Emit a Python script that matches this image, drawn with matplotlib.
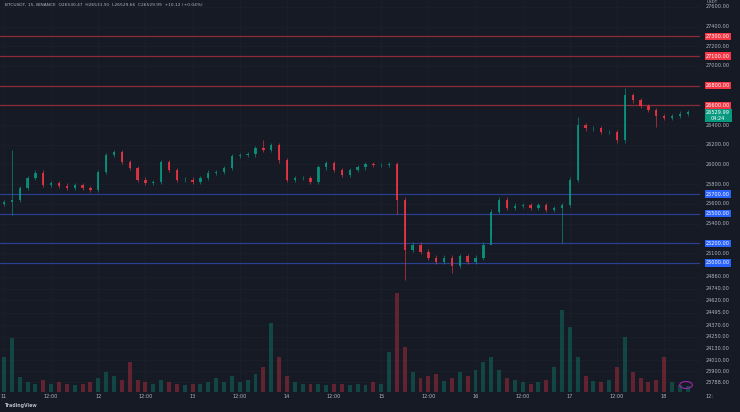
import matplotlib
matplotlib.use('Agg')
import matplotlib.pyplot as plt
from matplotlib.patches import Rectangle

# 2-hour candles, time in days since the 11th 00:00
closes = [25619, 25640, 25761, 25863, 25914, 25792, 25812, 25782, 25761, 25792,
          25761, 25741, 25924, 26096, 26127, 26025, 25964, 25843, 25812, 25822,
          26025, 25944, 25843, 25843, 25822, 25863, 25914, 25924, 25964, 26086,
          26096, 26106, 26167, 26147, 26198, 26045, 25843, 25863, 25863, 25822,
          25974, 26015, 25944, 25893, 25944, 25974, 26005, 25995, 25995, 26005,
          25640, 25132, 25183, 25112, 25051, 25010, 25051, 24970, 25071, 25010,
          25051, 25183, 25518, 25640, 25558, 25579, 25589, 25558, 25589, 25538,
          25558, 25589, 25843, 26400, 26370, 26370, 26330, 26330, 26248, 26705,
          26654, 26594, 26553, 26492, 26472, 26492, 26513, 26530]
first_open = 25600
spike_highs = {1: 26147, 33: 26248, 79: 26776, 73: 26480}
spike_lows = {1: 25487, 50: 25500, 51: 24827, 57: 24900, 62: 25280, 71: 25203, 83: 26380}
volumes = [35, 54, 15, 10, 8, 12, 8, 10, 8, 7,
           8, 10, 14, 20, 16, 12, 30, 12, 10, 8,
           12, 10, 8, 7, 8, 8, 10, 14, 10, 16,
           10, 12, 18, 25, 69, 35, 16, 10, 8, 8,
           8, 7, 8, 8, 7, 8, 7, 10, 8, 40,
           99, 45, 20, 14, 16, 18, 11, 14, 20, 16,
           22, 30, 35, 22, 14, 12, 10, 8, 10, 12,
           25, 82, 65, 35, 16, 11, 10, 12, 25, 55,
           20, 14, 10, 12, 35, 10, 7, 6]

red_levels = [27300, 27100, 26800, 26600]
blue_levels = [25700, 25500, 25200, 25000]
price_ticks = [27600, 27400, 27200, 27000, 26400, 26200, 26000, 25800, 25600, 25400, 25100]
low_ticks = [24860, 24740, 24620, 24495, 24370, 24250, 24130, 24010, 23900, 23788]
day_labels = ['11', '12:00', '12', '12:00', '13', '12:00', '14', '12:00', '15', '12:00',
              '16', '12:00', '17', '12:00', '18']

BG = '#161a25'
UP = '#089981'
DOWN = '#f23645'
BLUE = '#2962ff'
TXT = '#b2b5be'

fig = plt.figure(figsize=(7.4, 4.12), dpi=100, facecolor=BG)
ax = fig.add_axes([0, 20 / 412, 700 / 740, 392 / 412])
ax.set_facecolor(BG)
for s in ax.spines.values():
    s.set_visible(False)
ax.set_xlim(-0.042, 7.38)
ax.set_ylim(23690, 27670)
ax.set_xticks([])
ax.set_yticks([])

step = 1 / 12
w = step * 0.3
for t in range(len(day_labels)):
    ax.axvline(t * 0.5, color='#1c202b', lw=0.5, zorder=0)
for p in price_ticks + low_ticks:
    ax.axhline(p, color='#1c202b', lw=0.5, zorder=0)

for lv in red_levels:
    ax.axhline(lv, color='#8c2a36', lw=0.9, zorder=1)
for lv in blue_levels:
    ax.axhline(lv, color='#2b3f8f', lw=0.9, zorder=1)

# volume in a twin axis (pixel-ish units)
axv = ax.twinx()
axv.set_ylim(0, 392)
axv.set_xlim(ax.get_xlim())
axv.set_axis_off()

prev = first_open
for i, c in enumerate(closes):
    t = i * step
    o = prev
    col = UP if c >= o else DOWN
    hi = spike_highs.get(i, max(o, c) + 25)
    lo = spike_lows.get(i, min(o, c) - 25)
    ax.vlines(t, lo, hi, color=col, lw=0.5, alpha=0.85, zorder=3)
    ax.add_patch(Rectangle((t - w / 2, min(o, c)), w, max(abs(c - o), 4),
                           color=col, lw=0, alpha=0.85, zorder=3))
    axv.bar(t, volumes[i], width=step * 0.5, color=col, alpha=0.35, lw=0)
    prev = c

# x labels
for k, lab in enumerate(day_labels):
    fig.text((4 + k * 0.5 * 94.3) / 740, 1 - 396 / 412, lab, color=TXT,
             fontsize=3.6, ha='center', va='center')
fig.text(709 / 740, 1 - 396 / 412, '12:', color=TXT, fontsize=3.6, ha='center', va='center')

def ypix(p):
    return 20 / 412 + (p - 23690) / (27670 - 23690) * 392 / 412

fig.text(712 / 740, 1 - 2 / 412, 'USDT', color=TXT, fontsize=3.0, ha='center', va='center')
for p in price_ticks + low_ticks:
    fig.text(718 / 740, ypix(p), f'{p:.2f}', color=TXT, fontsize=3.6, ha='center', va='center')
for lv in red_levels:
    fig.text(718 / 740, ypix(lv), f'{lv:.2f}', color='white', fontsize=3.6, ha='center',
             va='center', bbox=dict(boxstyle='square,pad=0.25', fc=DOWN, ec='none'))
for lv in blue_levels:
    fig.text(718 / 740, ypix(lv), f'{lv:.2f}', color='white', fontsize=3.6, ha='center',
             va='center', bbox=dict(boxstyle='square,pad=0.25', fc=BLUE, ec='none'))
last = 26529.99
fig.text(718 / 740, ypix(last) - 0.008, f'{last:.2f}\n04:24', color='white', fontsize=3.6,
         ha='center', va='center', linespacing=1.1,
         bbox=dict(boxstyle='square,pad=0.3', fc=UP, ec='none'))

fig.text(5 / 740, 1 - 5 / 412,
         'BTCUSDT, 15, BINANCE  O26530.47  H26531.91  L26529.66  C26529.99  +10.12 (+0.04%)',
         color=TXT, fontsize=3.2, ha='left', va='center')
fig.text(4 / 740, 1 - 406 / 412, 'TradingView', color=TXT, fontsize=3.4, ha='left',
         va='center', fontweight='bold')
fig.patches.append(plt.Circle((686 / 740, 1 - 385 / 412), 3.5 / 412, transform=fig.transFigure,
                              fc='none', ec='#9c27b0', lw=0.8))

fig.savefig('out.png', dpi=100, facecolor=BG)
